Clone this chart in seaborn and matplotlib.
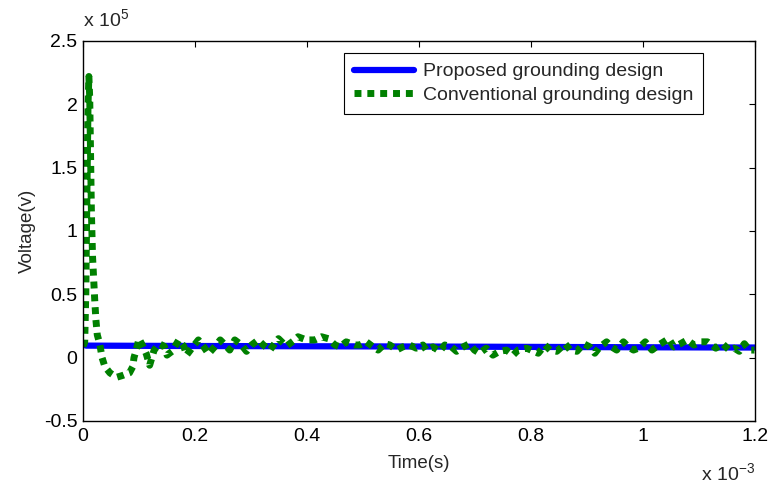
import numpy as np
import matplotlib
matplotlib.use("Agg")
import matplotlib.pyplot as plt
from matplotlib.ticker import FuncFormatter
import seaborn as sns

# data (time in ms, voltage in 1e5 V)
proposed_t = [0.0, 0.002, 0.006, 0.2, 0.4, 0.6, 0.8, 1.0, 1.2]
proposed_v = [0.11, 0.10, 0.095, 0.092, 0.09, 0.088, 0.085, 0.082, 0.08]

conv_t = [0.000, 0.003, 0.005, 0.007, 0.009, 0.0105, 0.012, 0.0135, 0.015, 0.017,
          0.019, 0.021, 0.023, 0.0255, 0.028, 0.031, 0.034, 0.039, 0.048, 0.060,
          0.071, 0.083, 0.089, 0.091, 0.095, 0.100, 0.107, 0.113, 0.119, 0.123,
          0.127, 0.136, 0.145, 0.150, 0.159, 0.171, 0.180, 0.185, 0.197, 0.206,
          0.215, 0.224, 0.236, 0.245, 0.254, 0.262, 0.271, 0.283, 0.292, 0.301,
          0.313, 0.322, 0.334, 0.342, 0.349, 0.363, 0.375, 0.384, 0.399, 0.414,
          0.426, 0.438, 0.450, 0.459, 0.470, 0.485, 0.494, 0.506, 0.518, 0.527,
          0.539, 0.548, 0.560, 0.571, 0.583, 0.595, 0.607, 0.613, 0.625, 0.637,
          0.646, 0.658, 0.667, 0.679, 0.690, 0.699, 0.708, 0.720, 0.732, 0.744,
          0.756, 0.768, 0.777, 0.792, 0.800, 0.813, 0.825, 0.834, 0.846, 0.861,
          0.870, 0.882, 0.894, 0.905, 0.914, 0.923, 0.935, 0.944, 0.953, 0.965,
          0.974, 0.983, 0.992, 1.004, 1.016, 1.028, 1.037, 1.046, 1.055, 1.067,
          1.079, 1.091, 1.103, 1.115, 1.130, 1.142, 1.154, 1.163, 1.172, 1.181,
          1.190, 1.199]
conv_v = [0.09, 0.12, 0.50, 1.30, 2.00, 2.22, 2.05, 1.60, 1.15, 0.80,
          0.62, 0.45, 0.30, 0.18, 0.14, 0.08, 0.00, -0.07, -0.12, -0.155,
          -0.14, -0.12, -0.07, 0.00, 0.06, 0.15, 0.09, 0.03, -0.06, 0.00,
          0.06, 0.11, 0.09, 0.02, 0.05, 0.14, 0.09, 0.02, 0.09, 0.14,
          0.09, 0.03, 0.09, 0.14, 0.10, 0.06, 0.14, 0.10, 0.05, 0.10,
          0.14, 0.10, 0.06, 0.11, 0.15, 0.09, 0.13, 0.165, 0.14, 0.14,
          0.165, 0.15, 0.10, 0.085, 0.125, 0.10, 0.10, 0.125, 0.085, 0.06,
          0.11, 0.10, 0.06, 0.085, 0.10, 0.075, 0.10, 0.06, 0.085, 0.05,
          0.10, 0.085, 0.05, 0.085, 0.11, 0.06, 0.035, 0.075, 0.02, 0.05,
          0.06, 0.02, 0.06, 0.075, 0.06, 0.035, 0.10, 0.06, 0.05, 0.11,
          0.06, 0.05, 0.11, 0.085, 0.035, 0.085, 0.125, 0.085, 0.06, 0.125,
          0.085, 0.06, 0.075, 0.125, 0.06, 0.10, 0.125, 0.15, 0.085, 0.11,
          0.14, 0.10, 0.125, 0.125, 0.075, 0.11, 0.06, 0.075, 0.05, 0.11,
          0.06, 0.06]

x_ticks = [0, 0.2, 0.4, 0.6, 0.8, 1.0, 1.2]
y_ticks = [-0.5, 0, 0.5, 1, 1.5, 2, 2.5]

sns.set_theme(style="white")
plt.rcParams['font.family'] = ['Liberation Sans', 'DejaVu Sans']
plt.rcParams['mathtext.default'] = 'regular'
plt.rcParams['font.size'] = 14

fig = plt.figure(figsize=(7.7, 4.88), dpi=100)
ax = fig.add_axes([0.1078, 0.1373, 0.8727, 0.7787])

sns.lineplot(x=np.array(proposed_t) * 1e-3, y=np.array(proposed_v) * 1e5, ax=ax,
             color='#0000FF', lw=4.5, label='Proposed grounding design', sort=False)
sns.lineplot(x=np.array(conv_t) * 1e-3, y=np.array(conv_v) * 1e5, ax=ax,
             color='#008000', lw=5, linestyle=(0, (1.0, 0.85)),
             label='Conventional grounding design', sort=False)

ax.set_xlim(0, 1.2e-3)
ax.set_ylim(-0.5e5, 2.5e5)
ax.set_xticks([t * 1e-3 for t in x_ticks])
ax.set_yticks([v * 1e5 for v in y_ticks])
ax.xaxis.set_major_formatter(FuncFormatter(lambda x, p: f"{x * 1e3:g}"))
ax.yaxis.set_major_formatter(FuncFormatter(lambda y, p: f"{y / 1e5:g}"))
ax.tick_params(direction='in', top=True, right=True, length=4, width=0.8,
               colors='black', labelsize=14)
ax.tick_params(axis='x', pad=5)
ax.tick_params(axis='y', pad=4)
for s in ax.spines.values():
    s.set_color('black')
    s.set_linewidth(1.0)

ax.set_xlabel('Time(s)', fontsize=13.5, labelpad=7)
ax.set_ylabel('Voltage(v)', fontsize=13.5, labelpad=6)

ax.text(0.0, 1.028, 'x 10$^{5}$', transform=ax.transAxes, ha='left', va='bottom', fontsize=14)
ax.text(1.0, -0.155, 'x 10$^{-3}$', transform=ax.transAxes, ha='right', va='baseline', fontsize=14)

leg = ax.legend(loc='upper right', bbox_to_anchor=(0.9226, 0.968), borderaxespad=0,
                fancybox=False, framealpha=1, edgecolor='black', fontsize=14,
                handlelength=3.1, handletextpad=0.45, labelspacing=0.3, borderpad=0.5)
leg.get_frame().set_linewidth(0.8)

fig.savefig('out.png', dpi=100)
